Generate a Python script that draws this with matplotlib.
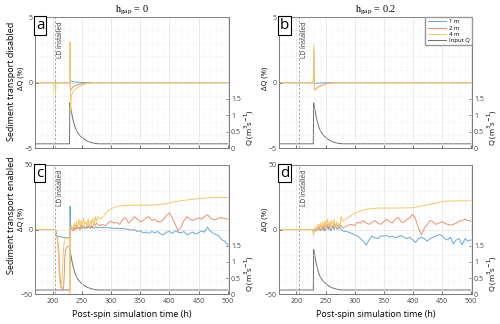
import numpy as np
import matplotlib
matplotlib.use("Agg")
import matplotlib.pyplot as plt
from matplotlib.ticker import MultipleLocator

plt.rcParams["font.family"] = ["Open Sans", "DejaVu Sans"]

# ---- input discharge (same for every panel) ----
t_q = [170, 229, 229.6, 230, 232, 234, 236, 239, 242, 246, 250, 255, 260, 266, 273, 280, 500]
q_in = [0.13, 0.13, 1.38, 1.36, 1.15, 0.95, 0.8, 0.62, 0.5, 0.4, 0.33, 0.26, 0.21, 0.17, 0.14, 0.13, 0.13]

# ---- sediment transport disabled (panels a, b) ----
t_dis = [170, 204, 205, 206, 229, 230, 231, 232, 235, 240, 245, 250, 255, 260, 270, 500]
a_1m = [0, 0, 0, 0, 0, 0, 0.15, 0.12, 0.08, 0.05, 0.03, 0.01, 0, 0, 0, 0]
a_2m = [0, 0, 0, 0, 0, 0, -0.6, -0.5, -0.35, -0.22, -0.13, -0.08, -0.04, -0.02, 0, 0]
a_4m = [0, 0, -1.0, 0, 0, 3.1, -2.3, -1.0, -0.7, -0.45, -0.3, -0.18, -0.1, -0.05, 0, 0]
b_1m = [0, 0, 0, 0, 0, 0, -0.05, -0.05, -0.04, -0.03, -0.02, -0.01, 0, 0, 0, 0]
b_2m = [0, 0, 0, 0, 0, 2.5, -0.55, -0.5, -0.4, -0.27, -0.18, -0.1, -0.05, -0.02, 0, 0]
b_4m = [0, 0, 0, 0, 0, 2.9, -0.6, -0.55, -0.45, -0.3, -0.2, -0.12, -0.06, -0.03, 0, 0]

# ---- sediment transport enabled (panels c, d) ----
t_pre = [170, 205, 206, 207, 208, 209, 210, 211, 212, 213, 214, 215, 216, 217, 218,
         219, 220, 221, 222, 224, 226, 228, 229, 229.5, 230]
t_burst = list(range(231, 278, 2))
t_post = list(range(280, 501, 5))
t_sed = t_pre + t_burst + t_post

c_1m = ([0, 0, -2, -4, -5, -5.5, -5.5, -5.5, -5.5, -5.5, -5.5, -5.5, -5.8, -6, -6,
         -6, -6, -6, -6.2, -6.3, -6.4, -6.5, -6.5, -6.5, 18]
        + [0, 0.5, 1, 0, 1, 0.5, 1.5, 1, 0.5, 1.5, 1, 2, 1, 1.5, 1, 2, 1.5, 1, 2, 1.5, 1, 1.5, 2, 1.5]
        + [1.5, 1.5, 1.5, 1.3, 1.2, 1, 1, 0.8, 1, 0.5, 0.2, -0.5, 0, -1.5, -1, -2.5, -2, -3,
           -1.5, -2.5, -1.5, -3.5, -4, -2, -1.5, -3, -1, -2, -2.5, -1.5, -4, -3, -2, -3.5,
           -2.5, -1, -2, 2, -1, -3, -4, -5, -8, -9, -12])
c_2m = ([0, 0, -1, -3, -7, -10, -12, -18, -30, -38, -42, -44, -45, -46, -46,
         -44, -35, -22, -16, -14, -13, -13, -13, -47, 0]
        + [0, 1, -1, 2, 0, 3, 1, 2, 0, 4, 1, 3, 2, 1, 3, 2, 4, 1, 3, 2, 4, 3, 5, 4]
        + [3, 4, 3, 5, 6.5, 5, 5.5, 4, 8, 9, 5, 7, 10, 8, 6, 7, 9, 10, 7, 8, 6, 6, 8, 11,
           13, 9, 4, -1, 2, 7, 10, 8, 7, 8, 9, 8, 10, 11.5, 9, 7.5, 8, 9, 9, 8.5, 8])
c_4m = ([0, 0, -2, -5, -7, -10, -20, -30, -38, -43, -45, -44, -40, -30, -20,
         -14, -10, -8, -7, -6.5, -6.5, -7, -7, -50, 0]
        + [1, 3, 0, 5, 2, 6, 1, 8, 3, 7, 2, 9, 4, 6, 3, 8, 2, 7, 4, 9, 3, 10, 6, 10]
        + [8, 9, 12, 14.5, 16, 17, 17.8, 18.2, 18.5, 18.6, 18.7, 18.8, 18.8, 18.8, 18.8,
           18.8, 18.8, 18.9, 18.9, 19.0, 19.2, 19.5, 19.8, 20.2, 20.6, 21.0, 21.5, 21.9,
           22.3, 22.6, 22.9, 23.2, 23.4, 23.7, 23.9, 24.1, 24.3, 24.5, 24.6, 24.7, 24.7,
           24.7, 24.7, 24.8, 24.8])
d_1m = ([0] * 22 + [-2, -3, 0]
        + [0, -1, 1, 0, 2, -1, 1, 0, 2, -1, 1, 3, 0, 2, -1, 1, 2, 0, 3, 1, 0, 2, 1, 0]
        + [-1, -1.5, -2, -3, -4, -5, -7, -9, -12, -8, -5, -6.5, -7, -5, -5, -4.5, -6, -5,
           -6.5, -5.5, -4.5, -6, -7, -6, -8, -10, -7, -6, -7, -9, -7, -6, -5, -4, -4.5,
           -7, -8, -6, -11, -8, -7, -12, -7, -9, -8])
d_2m = ([0] * 22 + [-1, -2, 0]
        + [0, 1, -1, 2, 0, 4, 1, 3, -1, 5, 2, 4, 0, 6, 2, 3, 1, 4, 2, 5, 1, 4, 2, 3]
        + [1, 2.5, 3.5, 4, 3, 5.5, 5, 7, 5, 4, 5.5, 7, 5, 4, 6, 8, 6, 5, 8, 9.5, 6, 5.5,
           8, 9, 12, 8, 1, -4, 1, 4, 7, 6, 4, 5, 6, 5, 4, 3.5, 4, 5, 6.5, 7, 8, 7, 6.5])
d_4m = ([0] * 22 + [-3, -5, 0]
        + [0, 2, -1, 4, 1, 5, 0, 6, 2, 7, 1, 8, 3, 6, 2, 7, 3, 8, 2, 6, 1, 5, 3, 10]
        + [6.5, 8, 9.5, 11, 12.5, 13.5, 14.3, 15, 15.5, 15.9, 16.2, 16.4, 16.6, 16.6,
           16.6, 16.6, 16.6, 16.6, 16.7, 16.7, 16.7, 16.8, 16.8, 16.8, 17, 17.3, 17.7,
           18.2, 18.7, 19.1, 19.5, 20, 20.5, 21, 21.5, 21.8, 22, 22.1, 22.1, 22.2, 22.2,
           22.2, 22.2, 22.2, 22.2])

ld_time = 205
col_1m = "#66aad7"
col_2m = "#e89270"
col_4m = "#f4c868"
col_q = "#6e6e6e"

fig = plt.figure(figsize=(5.0, 3.24), dpi=100)
boxes = {
    "a": [0.070, 0.543, 0.388, 0.404],
    "b": [0.558, 0.543, 0.386, 0.404],
    "c": [0.070, 0.092, 0.388, 0.399],
    "d": [0.558, 0.092, 0.386, 0.399],
}
panels = {
    "a": (t_dis, a_1m, a_2m, a_4m),
    "b": (t_dis, b_1m, b_2m, b_4m),
    "c": (t_sed, c_1m, c_2m, c_4m),
    "d": (t_sed, d_1m, d_2m, d_4m),
}

for key, box in boxes.items():
    t, s1, s2, s4 = panels[key]
    top = key in "ab"
    ax = fig.add_axes(box)
    ax2 = ax.twinx()
    ax.set_zorder(ax2.get_zorder() + 1)
    ax.patch.set_visible(False)

    ax2.plot(t_q, q_in, color=col_q, lw=0.7)
    ax.axvline(ld_time, color="#9a9a9a", lw=0.6, ls=(0, (3, 2)))
    ax.plot(t, s1, color=col_1m, lw=0.7, label="1 m")
    ax.plot(t, s2, color=col_2m, lw=0.7, label="2 m")
    ax.plot(t, s4, color=col_4m, lw=0.7, label="4 m")

    lim = 5 if top else 50
    ax.set_ylim(-lim, lim)
    ax.set_yticks([-lim, 0, lim])
    ax.yaxis.set_minor_locator(MultipleLocator(lim / 5))
    ax.set_xlim(170, 502)
    ax.set_xticks(range(200, 501, 50))
    ax.xaxis.set_minor_locator(MultipleLocator(10))
    ax.grid(which="major", color="#e2e2e2", lw=0.5)
    ax.grid(which="minor", color="#ececec", lw=0.4, ls=(0, (2, 1.5)))
    ax.set_axisbelow(True)

    ax2.set_ylim(0, 4)
    ax2.set_yticks([0, 0.5, 1, 1.5])
    ax2.set_yticklabels(["0", "0.5", "1", "1.5"])

    for a_ in (ax, ax2):
        a_.tick_params(labelsize=5, length=2, width=0.5, colors="#444444",
                       direction="in", pad=1.5)
        a_.tick_params(which="minor", length=0)
        for sp in a_.spines.values():
            sp.set_color("#7a7a7a")
            sp.set_linewidth(0.6)
    if top:
        ax.tick_params(labelbottom=False)
    else:
        ax.tick_params(axis="x", pad=2.5)
        ax.set_xlabel("Post-spin simulation time (h)", fontsize=6.5, labelpad=4)

    ax.set_ylabel("ΔQ (%)", fontsize=5.5, labelpad=1)
    ax.yaxis.set_label_coords(-0.055, 0.53 if top else 0.58)
    ax2.set_ylabel("Q (m$^3$s$^{-1}$)", fontsize=5.5, labelpad=1)
    ax2.yaxis.set_label_coords(1.07, 0.16)

    ax.text(ld_time + 9, lim * 0.93, "LD installed", rotation=90, fontsize=4.8,
            ha="center", va="top", color="#333333")
    ax.text(0.004, 0.995, key, transform=ax.transAxes, fontsize=11, ha="left", va="top",
            bbox=dict(boxstyle="square,pad=0.12", fc="white", ec="black", lw=0.8))

    if key == "a":
        ax.set_title("$\\mathregular{h_{gap}}$ = 0", fontsize=7.5, family="Liberation Serif", pad=3)
    if key == "b":
        ax.set_title("$\\mathregular{h_{gap}}$ = 0.2", fontsize=7.5, family="Liberation Serif", pad=3)
        handles = ax.get_lines()[1:] + ax2.get_lines()
        ax.legend(handles, ["1 m", "2 m", "4 m", "Input Q"], loc="upper right",
                  fontsize=4.2, fancybox=False, edgecolor="#999999", framealpha=1,
                  borderaxespad=0, handlelength=3.2, handletextpad=0.5,
                  labelspacing=0.2, borderpad=0.35)

fig.text(0.024, 0.75, "Sediment transport disabled", rotation=90, fontsize=6.5,
         ha="center", va="center")
fig.text(0.024, 0.335, "Sediment transport enabled", rotation=90, fontsize=6.5,
         ha="center", va="center")

fig.savefig("out.png", dpi=100)
